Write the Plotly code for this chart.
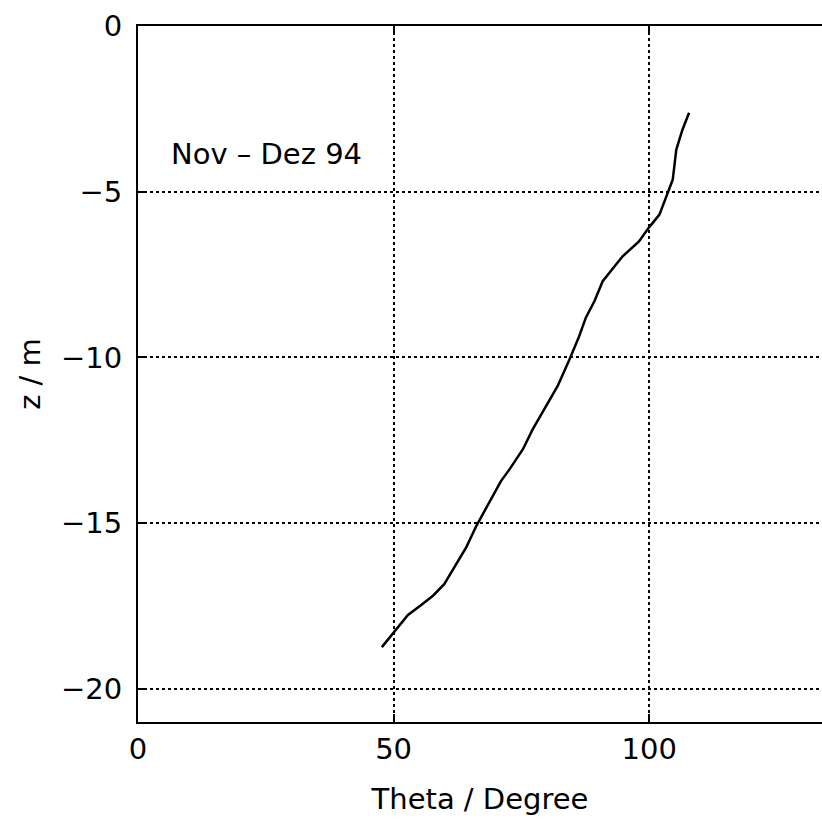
import plotly.graph_objects as go

# Profile data
theta = [47.7, 49.9, 52.8, 55.4, 57.7, 59.9, 60.9, 62.6, 64.2, 66.2, 68.1, 71.0,
         72.7, 75.3, 77.2, 79.8, 82.1, 84.4, 86.3, 87.6, 89.3, 90.9, 94.8, 98.0,
         99.9, 102.0, 103.1, 104.6, 105.3, 106.5, 107.8]
z = [-18.74, -18.31, -17.77, -17.47, -17.19, -16.84, -16.59, -16.14, -15.73, -15.08,
     -14.53, -13.73, -13.37, -12.77, -12.17, -11.47, -10.86, -10.06, -9.36, -8.80,
     -8.30, -7.70, -6.95, -6.50, -6.09, -5.69, -5.24, -4.64, -3.73, -3.13, -2.62]

x_ticks = [0, 50, 100]
x_ticktext = ["0", "50", "100"]
y_ticks = [0, -5, -10, -15, -20]
y_ticktext = ["0", "\u22125", "\u221210", "\u221215", "\u221220"]
label_text = "Nov \u2013 Dez 94"

FONT = "DejaVu Sans"

fig = go.Figure()
fig.add_trace(go.Scatter(x=theta, y=z, mode="lines",
                         line=dict(color="black", width=2.5), showlegend=False))

fig.add_annotation(x=6.0, y=-3.85, xref="x", yref="y", text=label_text,
                   showarrow=False, xanchor="left", yanchor="middle",
                   font=dict(family=FONT, size=29, color="black"))

fig.update_layout(
    width=822, height=828,
    margin=dict(l=138, r=0, t=26, b=106),
    paper_bgcolor="white", plot_bgcolor="white",
    font=dict(family=FONT, size=29, color="black"),
    xaxis=dict(range=[0, 133.8], tickvals=x_ticks, ticktext=x_ticktext,
               ticks="inside", ticklen=8, tickwidth=2, tickcolor="black",
               showline=True, linecolor="black", linewidth=2, mirror="ticks",
               showgrid=True, gridcolor="black", griddash="dot", gridwidth=1.5,
               zeroline=False, ticklabelstandoff=0,
               title=dict(text="Theta / Degree", standoff=24,
                          font=dict(family=FONT, size=29))),
    yaxis=dict(range=[-21, 0], tickvals=y_ticks, ticktext=y_ticktext,
               ticks="inside", ticklen=8, tickwidth=2, tickcolor="black",
               showline=True, linecolor="black", linewidth=2, mirror=False,
               showgrid=True, gridcolor="black", griddash="dot", gridwidth=1.5,
               zeroline=False, ticklabelstandoff=8,
               title=dict(text="z / m", standoff=12,
                          font=dict(family=FONT, size=29))),
)

fig.write_html("out.html",
               config={"displayModeBar": False},
               post_script="document.body.style.margin='0';"
                           "document.body.style.overflow='hidden';")
